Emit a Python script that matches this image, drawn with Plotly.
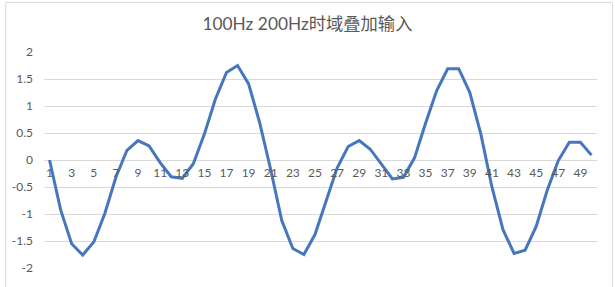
import plotly.graph_objects as go

title_text = "100Hz 200Hz时域叠加输入"
x_index = list(range(1, 51))
signal = [0.00, -0.92, -1.55, -1.76, -1.52, -0.99, -0.32, 0.18, 0.36, 0.26,
          -0.05, -0.31, -0.34, -0.07, 0.48, 1.13, 1.62, 1.75, 1.41, 0.69,
          -0.18, -1.12, -1.64, -1.75, -1.38, -0.78, -0.15, 0.25, 0.36, 0.20,
          -0.08, -0.35, -0.32, 0.04, 0.68, 1.28, 1.69, 1.69, 1.25, 0.48,
          -0.50, -1.29, -1.73, -1.67, -1.23, -0.56, -0.01, 0.33, 0.33, 0.09]
x_tick_vals = list(range(1, 51, 2))
y_tick_vals = [-2, -1.5, -1, -0.5, 0, 0.5, 1, 1.5, 2]
y_tick_text = ["-2", "-1.5", "-1", "-0.5", "0", "0.5", "1", "1.5", "2"]

W, H = 615, 287
ml, mr, mt, mb = 41, 18, 52, 15
pw, ph = W - ml - mr, H - mt - mb

font_fam = "Lato, 'Noto Sans CJK SC', sans-serif"
grey = "#595959"

fig = go.Figure()
fig.add_trace(go.Scatter(
    x=x_index, y=signal, mode="lines",
    line=dict(color="#4677BE", width=3),
    hoverinfo="x+y", showlegend=False,
))

fig.update_layout(
    width=W, height=H,
    margin=dict(l=ml, r=mr, t=mt, b=mb),
    paper_bgcolor="white", plot_bgcolor="white",
    title=dict(text=title_text, x=307.5 / W, xanchor="center", xref="container",
               y=1 - 24 / H, yanchor="middle", yref="container",
               font=dict(family=font_fam, size=17.3, color=grey)),
    font=dict(family=font_fam, size=12, color=grey),
    xaxis=dict(
        range=[0.5, 50.5], tickmode="array", tickvals=x_tick_vals,
        ticktext=[str(v) for v in x_tick_vals],
        showgrid=False, zeroline=False, showline=False, ticks="",
        anchor="free", position=0.5, ticklabelstandoff=4,
        tickfont=dict(size=12, color=grey), fixedrange=True,
    ),
    yaxis=dict(
        range=[-2, 2], tickmode="array", tickvals=y_tick_vals,
        ticktext=y_tick_text, showgrid=True, gridcolor="#D9D9D9",
        gridwidth=1, zeroline=False, showline=False, ticks="",
        ticklabelstandoff=10, tickfont=dict(size=12, color=grey),
        fixedrange=True,
    ),
    shapes=[dict(
        type="rect", xref="paper", yref="paper",
        x0=(2.5 - ml) / pw, x1=(612.5 - ml) / pw,
        y0=(H - mb - 295) / ph, y1=(H - mb - 1.5) / ph,
        line=dict(color="#D9D9D9", width=1), fillcolor="rgba(0,0,0,0)",
        layer="below",
    )],
)

fig.write_html("out.html")
